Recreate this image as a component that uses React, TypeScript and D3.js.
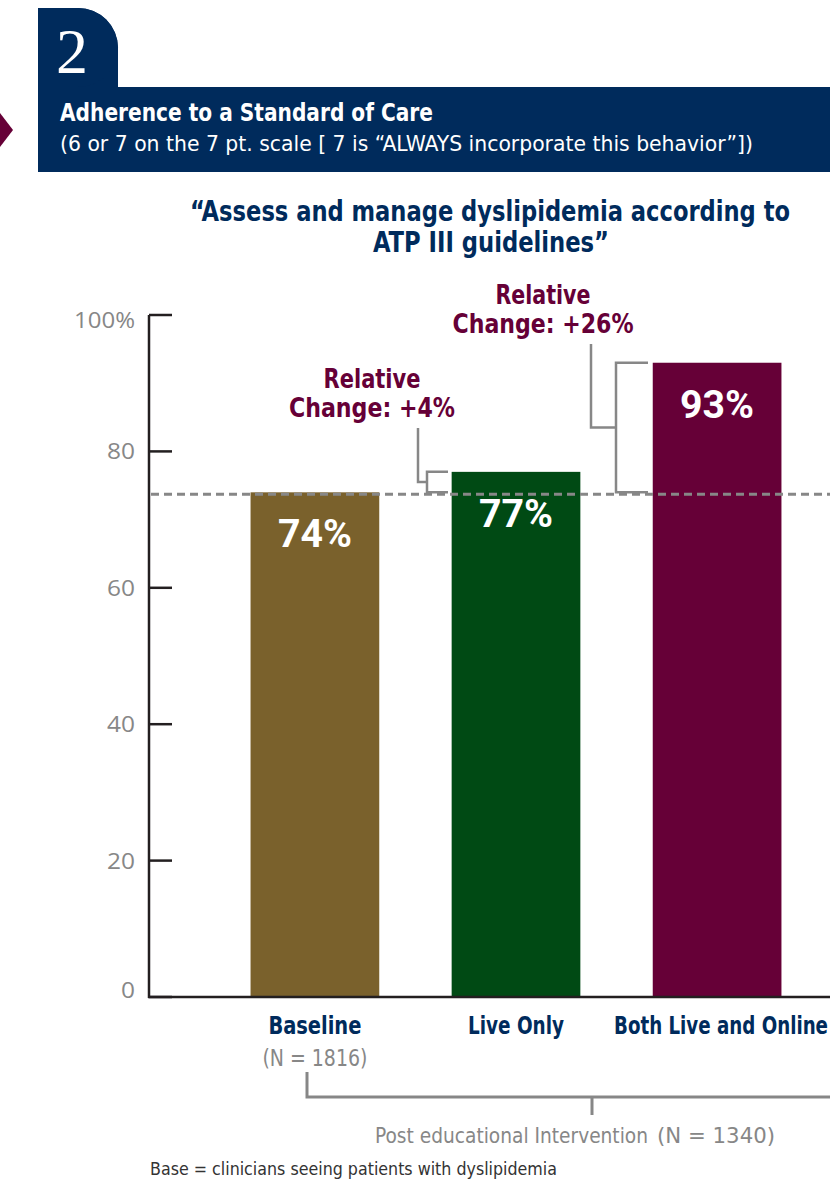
import React from "react";
import * as d3 from "d3";

const categories = ["Baseline", "Live Only", "Both Live and Online"];
const values = [74, 77, 93];
const valueLabels = ["74%", "77%", "93%"];
const barColors = ["#7a612c", "#004a14", "#660037"];
const nLabels = ["(N = 1816)", "", ""];
const yTicks = [0, 20, 40, 60, 80, 100];
const yTickLabels = ["0", "20", "40", "60", "80", "100%"];
const referenceValue = 73.7;
const changes = [
  { from: 74, to: 77, lines: ["Relative", "Change: +4%"] },
  { from: 74, to: 93, lines: ["Relative", "Change: +26%"] },
];

const W = 830;
const H = 1183;
const NAVY = "#002b5c";
const MAROON = "#660037";
const GREY = "#878787";
const COND = "'Liberation Sans Narrow', 'DejaVu Sans Condensed', 'Roboto', sans-serif";
const SANS = "'Open Sans', 'Noto Sans', sans-serif";

export default function App() {
  const y = d3.scaleLinear().domain([0, 100]).range([997, 315]);
  const x = d3
    .scaleBand<string>()
    .domain(categories)
    .range([150, 882])
    .paddingInner(0.36)
    .paddingOuter(0.5);
  const bw = x.bandwidth();
  const cx = (c: string) => (x(c) as number) + bw / 2;

  const ann = [
    { cx: 372, top: 378, lineX: 418, armX: 427, endX: 448 },
    { cx: 543, top: 294, lineX: 591, armX: 616, endX: 648 },
  ];
  const tickOffset = (t: number) => (t === 100 ? 13 : t === 0 ? 1 : 8);

  return (
    <svg
      width={W}
      height={H}
      viewBox={`0 0 ${W} ${H}`}
      style={{ position: "absolute", left: 0, top: 0, background: "#fff" }}
    >
      <rect x={0} y={0} width={W} height={H} fill="#fff" />
      {/* header tab */}
      <path d="M38,8 H78 A40,40 0 0 1 118,48 V87 H38 Z" fill={NAVY} />
      <path d="M78,8 A40,39.5 0 0 1 78,87 Z" fill={NAVY} />
      <text
        x={72}
        y={73}
        textAnchor="middle"
        fill="#fff"
        fontFamily="'Liberation Serif', 'DejaVu Serif', serif"
        fontSize={64}
      >
        2
      </text>
      <rect x={38} y={87} width={W - 38} height={85} fill={NAVY} />
      <path d="M0,113 L13,130 L0,147 Z" fill={MAROON} />
      <text
        x={60}
        y={121}
        fill="#fff"
        fontFamily={COND}
        fontWeight="bold"
        fontSize={24}
        textLength={373}
        lengthAdjust="spacingAndGlyphs"
      >
        Adherence to a Standard of Care
      </text>
      <text
        x={60}
        y={151}
        fill="#fff"
        fontFamily={COND}
        fontSize={22}
        textLength={693}
        lengthAdjust="spacingAndGlyphs"
      >
        (6 or 7 on the 7 pt. scale [ 7 is “ALWAYS incorporate this behavior”])
      </text>

      {/* chart title */}
      <text
        x={490}
        y={221}
        textAnchor="middle"
        fill={NAVY}
        fontFamily={COND}
        fontWeight="bold"
        fontSize={28}
        textLength={600}
        lengthAdjust="spacingAndGlyphs"
      >
        “Assess and manage dyslipidemia according to
      </text>
      <text
        x={491}
        y={252}
        textAnchor="middle"
        fill={NAVY}
        fontFamily={COND}
        fontWeight="bold"
        fontSize={28}
        textLength={236}
        lengthAdjust="spacingAndGlyphs"
      >
        ATP III guidelines”
      </text>

      {/* y axis */}
      <line x1={149} x2={149} y1={y(100)} y2={y(0) + 1} stroke="#231f20" strokeWidth={2.5} />
      {yTicks.map((t, i) => (
        <g key={t}>
          <line x1={149} x2={172} y1={y(t)} y2={y(t)} stroke="#231f20" strokeWidth={2.5} />
          <text
            x={135}
            y={y(t) + tickOffset(t)}
            textAnchor="end"
            fill={GREY}
            fontFamily={SANS}
            fontSize={22}
            textLength={t === 100 ? 61 : t === 0 ? 14 : 28}
            lengthAdjust="spacingAndGlyphs"
          >
            {yTickLabels[i]}
          </text>
        </g>
      ))}

      {/* bars */}
      {categories.map((c, i) => (
        <rect
          key={c}
          x={x(c)}
          y={y(values[i])}
          width={bw}
          height={y(0) - y(values[i])}
          fill={barColors[i]}
        />
      ))}

      {/* reference dashed line */}
      <line
        x1={151}
        x2={W}
        y1={y(referenceValue)}
        y2={y(referenceValue)}
        stroke={GREY}
        strokeWidth={3}
        strokeDasharray="8,5"
      />

      {categories.map((c, i) => (
        <text
          key={c + "lab"}
          x={cx(c)}
          y={y(values[i]) + 55}
          textAnchor="middle"
          fill="#fff"
          fontFamily={"'Roboto', 'Open Sans', sans-serif"}
          fontWeight="bold"
          fontSize={38}
          textLength={74}
          lengthAdjust="spacingAndGlyphs"
        >
          {valueLabels[i]}
        </text>
      ))}

      {/* x axis */}
      <line x1={148} x2={W} y1={y(0)} y2={y(0)} stroke="#231f20" strokeWidth={2.5} />

      {/* annotations */}
      {changes.map((ch, i) => {
        const a = ann[i];
        const y1 = y(ch.to);
        const y0 = y(ch.from);
        const mid = (y1 + y0) / 2;
        return (
          <g key={i}>
            <text
              x={a.cx}
              y={a.top + 10}
              textAnchor="middle"
              fill={MAROON}
              fontFamily={COND}
              fontWeight="bold"
              fontSize={26}
              textLength={i === 0 ? 97 : 95}
              lengthAdjust="spacingAndGlyphs"
            >
              {ch.lines[0]}
            </text>
            <text
              x={a.cx}
              y={a.top + 39}
              textAnchor="middle"
              fill={MAROON}
              fontFamily={COND}
              fontWeight="bold"
              fontSize={26}
              textLength={i === 0 ? 166 : 181}
              lengthAdjust="spacingAndGlyphs"
            >
              {ch.lines[1]}
            </text>
            <path
              d={`M${a.lineX},${a.top + 50} V${mid} H${a.armX} M${a.endX},${y1} H${a.armX} V${y0} H${a.endX}`}
              fill="none"
              stroke={GREY}
              strokeWidth={2.5}
            />
          </g>
        );
      })}

      {/* category labels */}
      {categories.map((c, i) => (
        <g key={c + "x"}>
          <text
            x={i === 2 ? 721 : cx(c)}
            y={1034}
            textAnchor="middle"
            fill={NAVY}
            fontFamily={COND}
            fontWeight="bold"
            fontSize={25}
            textLength={i === 0 ? 93 : i === 1 ? 96 : 214}
            lengthAdjust="spacingAndGlyphs"
          >
            {c}
          </text>
          {nLabels[i] && (
            <text
              x={cx(c)}
              y={1066}
              textAnchor="middle"
              fill={GREY}
              fontFamily={COND}
              fontSize={23}
              textLength={105}
              lengthAdjust="spacingAndGlyphs"
            >
              {nLabels[i]}
            </text>
          )}
        </g>
      ))}

      {/* bottom bracket */}
      <path
        d={`M307,1072 V1097 H${W} M592,1097 V1115`}
        fill="none"
        stroke={GREY}
        strokeWidth={3}
      />
      <text
        x={375}
        y={1143}
        fill={GREY}
        fontFamily={COND}
        fontSize={22}
        textLength={273}
        lengthAdjust="spacingAndGlyphs"
      >
        Post educational Intervention
      </text>
      <text
        x={657}
        y={1143}
        fill={GREY}
        fontFamily={COND}
        fontSize={22}
        textLength={118}
        lengthAdjust="spacingAndGlyphs"
      >
        (N = 1340)
      </text>
      <text
        x={150}
        y={1175}
        fill="#333"
        fontFamily={COND}
        fontSize={18}
        textLength={407}
        lengthAdjust="spacingAndGlyphs"
      >
        Base = clinicians seeing patients with dyslipidemia
      </text>
    </svg>
  );
}
